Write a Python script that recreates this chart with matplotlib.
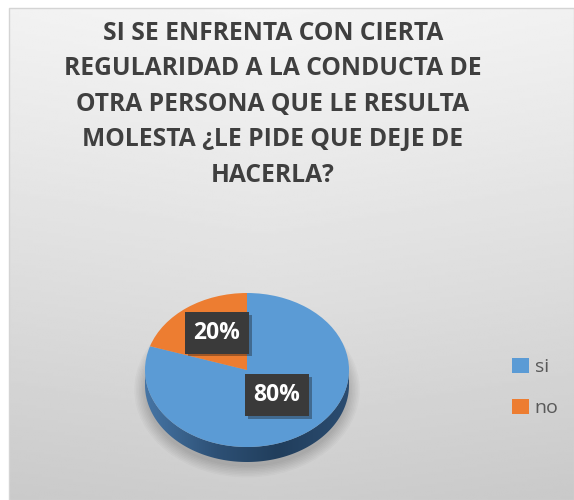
import numpy as np
import matplotlib
matplotlib.use("Agg")
import matplotlib.pyplot as plt
import matplotlib.transforms as mtransforms
from matplotlib.patches import Polygon, Ellipse, Rectangle
from matplotlib.colors import LinearSegmentedColormap
from matplotlib import patheffects as pe

plt.rcParams['font.family'] = ['Open Sans', 'DejaVu Sans']

# data
labels = ['si', 'no']
values = [80, 20]
colors = ['#5b9bd5', '#ed7d31']
title_lines = ['SI SE ENFRENTA CON CIERTA',
               'REGULARIDAD A LA CONDUCTA DE',
               'OTRA PERSONA QUE LE RESULTA',
               'MOLESTA ¿LE PIDE QUE DEJE DE',
               'HACERLA?']

W, H = 574, 500
fig = plt.figure(figsize=(W / 100, H / 100), dpi=100)

# background panel (pixel coords, y down)
bg = fig.add_axes([0, 0, 1, 1])
bg.set_xlim(0, W)
bg.set_ylim(H, 0)
bg.axis('off')
yy, xx = np.mgrid[0:1:200j, 0:1:200j]
shade = 0.96 - 0.155 * yy ** 1.1 - 0.03 * np.abs(xx - 0.45)
bg.imshow(shade, cmap='gray', vmin=0, vmax=1, extent=(9, W, H, 8),
          aspect='auto', interpolation='bilinear', zorder=0)
bg.add_patch(Rectangle((9, 8), W - 9, H - 8, fill=False, ec='#d4d4d4', lw=1, zorder=1))

for i, line in enumerate(title_lines):
    bg.text(273, 40 + 35.4 * i, line, ha='center', va='baseline',
            fontsize=17.7, fontweight='bold', color='#3f3f3f')

# pie axes: unit circle squashed into an ellipse
cx, cy, rx, ry = 247, 370, 102, 77
x0, x1, y0, y1 = -1.4, 1.4, -1.7, 1.3
left = (cx + x0 * rx) / W
bottom = (H - (cy - y0 * ry)) / H
ax = fig.add_axes([left, bottom, (x1 - x0) * rx / W, (y1 - y0) * ry / H])
ax.patch.set_alpha(0)

wedges, texts, autotexts = ax.pie(
    values, colors=colors, startangle=90, counterclock=False,
    autopct='%1.0f%%', pctdistance=0.5,
    wedgeprops=dict(linewidth=0),
    textprops=dict(color='white', fontsize=16.5, fontweight='bold'))
ax.set_aspect('auto')
ax.set_xlim(x0, x1)
ax.set_ylim(y0, y1)
ax.axis('off')
for w in wedges:
    w.set_zorder(5)

# side of the pie
depth = 15 / ry
th = np.linspace(np.pi, 2 * np.pi, 200)
top = np.column_stack([np.cos(th), np.sin(th)])
low = np.column_stack([np.cos(th[::-1]), np.sin(th[::-1]) - depth])
side = Polygon(np.vstack([top, low]), closed=True, fc='none', ec='none')
ax.add_patch(side)
side_cmap = LinearSegmentedColormap.from_list(
    'side', [(0, '#4675a5'), (0.35, '#2d5075'), (0.65, '#213e5c'), (1, '#2b4c70')])
grad = ax.imshow(np.linspace(0, 1, 256)[None, :], cmap=side_cmap,
                 extent=(-1, 1, -1 - depth, 0), aspect='auto', zorder=4)
grad.set_clip_path(side)

# soft shadow beneath
for k in range(8):
    ax.add_patch(Ellipse((0, -depth - 0.06), 2.0 + 0.03 * k, 2.0 + 0.04 * k,
                         fc='black', ec='none', alpha=0.025, zorder=3))

# data labels
shift = mtransforms.ScaledTranslation(0, 0.06, fig.dpi_scale_trans)
for t in autotexts:
    t.set_transform(t.get_transform() + shift)
    t.set_zorder(10)
    t.set_bbox(dict(boxstyle='square,pad=0.38', fc='#3a3a3a', ec='none'))
    t.get_bbox_patch().set_path_effects(
        [pe.SimplePatchShadow(offset=(2, -2), alpha=0.35), pe.Normal()])

fig.legend(wedges, labels, loc='center left', bbox_to_anchor=(0.862, 0.225),
           frameon=False, fontsize=14, labelcolor='#595959',
           handlelength=0.85, handleheight=0.85, handletextpad=0.3,
           labelspacing=1.15)

fig.savefig('out.png', dpi=100)
